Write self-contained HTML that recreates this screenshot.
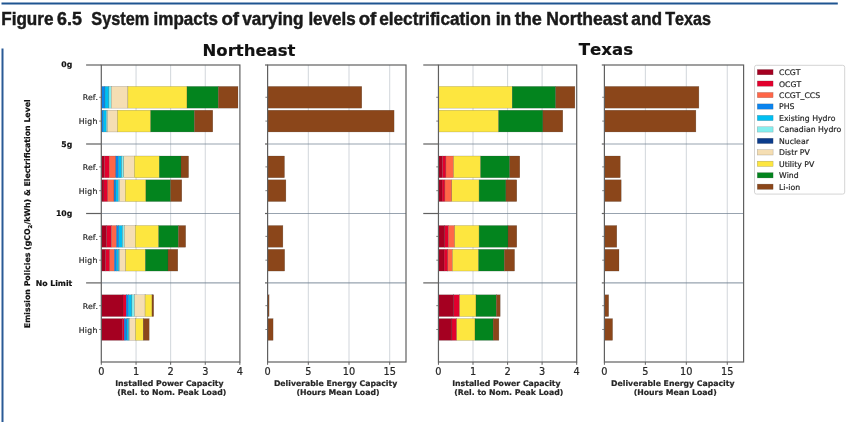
<!DOCTYPE html>
<html><head><meta charset="utf-8"><title>Figure 6.5</title>
<style>html,body{margin:0;padding:0;background:#fff;} body{width:850px;height:422px;position:relative;overflow:hidden;}</style>
</head><body>
<svg width="850" height="422" viewBox="0 0 850 422" style="position:absolute;left:0;top:0;will-change:transform;font-kerning:none">
<style>.d{font-family:"DejaVu Sans",sans-serif;fill:#262626;stroke:#262626;stroke-width:0.2px;} .s{font-size:7.75px;} .b{font-weight:bold;} .k{fill:#111;stroke:#111;} .tk{font-size:9.75px;}</style>
<rect x="1.5" y="2.5" width="836.3" height="2" fill="#1f5591"/>
<g font-family="Liberation Sans, Arial, sans-serif" font-weight="bold" font-size="17.5" fill="#1a1a1a" stroke="#1a1a1a" stroke-width="0.45">
<text x="1.2" y="24.6" textLength="52.3" lengthAdjust="spacingAndGlyphs">Figure</text>
<text x="57" y="24.6" textLength="24.8" lengthAdjust="spacingAndGlyphs">6.5</text>
<text x="91.3" y="24.6" textLength="57.9" lengthAdjust="spacingAndGlyphs">System</text>
<text x="153.6" y="24.6" textLength="64.3" lengthAdjust="spacingAndGlyphs">impacts</text>
<text x="221.4" y="24.6" textLength="17.7" lengthAdjust="spacingAndGlyphs">of</text>
<text x="242.3" y="24.6" textLength="61.1" lengthAdjust="spacingAndGlyphs">varying</text>
<text x="308.4" y="24.6" textLength="47.3" lengthAdjust="spacingAndGlyphs">levels</text>
<text x="358.7" y="24.6" textLength="17.6" lengthAdjust="spacingAndGlyphs">of</text>
<text x="379.2" y="24.6" textLength="111.9" lengthAdjust="spacingAndGlyphs">electrification</text>
<text x="495.7" y="24.6" textLength="15.5" lengthAdjust="spacingAndGlyphs">in</text>
<text x="514.8" y="24.6" textLength="27.1" lengthAdjust="spacingAndGlyphs">the</text>
<text x="546.3" y="24.6" textLength="81.7" lengthAdjust="spacingAndGlyphs">Northeast</text>
<text x="631.3" y="24.6" textLength="30.8" lengthAdjust="spacingAndGlyphs">and</text>
<text x="665.2" y="24.6" textLength="45.7" lengthAdjust="spacingAndGlyphs">Texas</text>
</g>
<rect x="1.5" y="48.5" width="2" height="374" fill="#2a5a96"/>
<line x1="136.05" y1="65.0" x2="136.05" y2="362.0" stroke="rgba(112,128,144,0.32)" stroke-width="1"/>
<line x1="170.65" y1="65.0" x2="170.65" y2="362.0" stroke="rgba(112,128,144,0.32)" stroke-width="1"/>
<line x1="205.25" y1="65.0" x2="205.25" y2="362.0" stroke="rgba(112,128,144,0.32)" stroke-width="1"/>
<line x1="101.3" y1="144" x2="239.9" y2="144" stroke="rgba(112,128,144,0.72)" stroke-width="1.2"/>
<line x1="101.3" y1="213.5" x2="239.9" y2="213.5" stroke="rgba(112,128,144,0.72)" stroke-width="1.2"/>
<line x1="101.3" y1="282.9" x2="239.9" y2="282.9" stroke="rgba(112,128,144,0.72)" stroke-width="1.2"/>
<rect x="101.3" y="86.4" width="3.6" height="21.75" fill="#0b84ee" stroke="rgba(60,60,60,0.45)" stroke-width="0.4"/>
<rect x="104.9" y="86.4" width="4" height="21.75" fill="#00bff2" stroke="rgba(60,60,60,0.45)" stroke-width="0.4"/>
<rect x="108.9" y="86.4" width="2.4" height="21.75" fill="#84eeee" stroke="rgba(60,60,60,0.45)" stroke-width="0.4"/>
<rect x="111.3" y="86.4" width="16.6" height="21.75" fill="#f5deb3" stroke="rgba(60,60,60,0.45)" stroke-width="0.4"/>
<rect x="127.9" y="86.4" width="59.1" height="21.75" fill="#fde63f" stroke="rgba(60,60,60,0.45)" stroke-width="0.4"/>
<rect x="187" y="86.4" width="31.3" height="21.75" fill="#03841e" stroke="rgba(60,60,60,0.45)" stroke-width="0.4"/>
<rect x="218.3" y="86.4" width="19.7" height="21.75" fill="#8b461a" stroke="rgba(60,60,60,0.45)" stroke-width="0.4"/>
<rect x="101.3" y="110.2" width="2" height="21.75" fill="#0b84ee" stroke="rgba(60,60,60,0.45)" stroke-width="0.4"/>
<rect x="103.3" y="110.2" width="3" height="21.75" fill="#00bff2" stroke="rgba(60,60,60,0.45)" stroke-width="0.4"/>
<rect x="106.3" y="110.2" width="1.2" height="21.75" fill="#84eeee" stroke="rgba(60,60,60,0.45)" stroke-width="0.4"/>
<rect x="107.5" y="110.2" width="10" height="21.75" fill="#f5deb3" stroke="rgba(60,60,60,0.45)" stroke-width="0.4"/>
<rect x="117.5" y="110.2" width="33.2" height="21.75" fill="#fde63f" stroke="rgba(60,60,60,0.45)" stroke-width="0.4"/>
<rect x="150.7" y="110.2" width="43.7" height="21.75" fill="#03841e" stroke="rgba(60,60,60,0.45)" stroke-width="0.4"/>
<rect x="194.4" y="110.2" width="18.4" height="21.75" fill="#8b461a" stroke="rgba(60,60,60,0.45)" stroke-width="0.4"/>
<rect x="101.3" y="156" width="3.2" height="21.75" fill="#a50021" stroke="rgba(60,60,60,0.45)" stroke-width="0.4"/>
<rect x="104.5" y="156" width="4.8" height="21.75" fill="#e2002d" stroke="rgba(60,60,60,0.45)" stroke-width="0.4"/>
<rect x="109.3" y="156" width="6.5" height="21.75" fill="#ff6648" stroke="rgba(60,60,60,0.45)" stroke-width="0.4"/>
<rect x="115.8" y="156" width="2.6" height="21.75" fill="#0b84ee" stroke="rgba(60,60,60,0.45)" stroke-width="0.4"/>
<rect x="118.4" y="156" width="3.3" height="21.75" fill="#00bff2" stroke="rgba(60,60,60,0.45)" stroke-width="0.4"/>
<rect x="121.7" y="156" width="2.1" height="21.75" fill="#84eeee" stroke="rgba(60,60,60,0.45)" stroke-width="0.4"/>
<rect x="123.8" y="156" width="10.6" height="21.75" fill="#f5deb3" stroke="rgba(60,60,60,0.45)" stroke-width="0.4"/>
<rect x="134.4" y="156" width="24.9" height="21.75" fill="#fde63f" stroke="rgba(60,60,60,0.45)" stroke-width="0.4"/>
<rect x="159.3" y="156" width="21.7" height="21.75" fill="#03841e" stroke="rgba(60,60,60,0.45)" stroke-width="0.4"/>
<rect x="181" y="156" width="7.6" height="21.75" fill="#8b461a" stroke="rgba(60,60,60,0.45)" stroke-width="0.4"/>
<rect x="101.3" y="179.8" width="2.6" height="21.75" fill="#a50021" stroke="rgba(60,60,60,0.45)" stroke-width="0.4"/>
<rect x="103.9" y="179.8" width="3.8" height="21.75" fill="#e2002d" stroke="rgba(60,60,60,0.45)" stroke-width="0.4"/>
<rect x="107.7" y="179.8" width="6.3" height="21.75" fill="#ff6648" stroke="rgba(60,60,60,0.45)" stroke-width="0.4"/>
<rect x="114" y="179.8" width="1.8" height="21.75" fill="#0b84ee" stroke="rgba(60,60,60,0.45)" stroke-width="0.4"/>
<rect x="115.8" y="179.8" width="2.6" height="21.75" fill="#00bff2" stroke="rgba(60,60,60,0.45)" stroke-width="0.4"/>
<rect x="118.4" y="179.8" width="1.2" height="21.75" fill="#84eeee" stroke="rgba(60,60,60,0.45)" stroke-width="0.4"/>
<rect x="119.6" y="179.8" width="5.7" height="21.75" fill="#f5deb3" stroke="rgba(60,60,60,0.45)" stroke-width="0.4"/>
<rect x="125.3" y="179.8" width="20.6" height="21.75" fill="#fde63f" stroke="rgba(60,60,60,0.45)" stroke-width="0.4"/>
<rect x="145.9" y="179.8" width="24.7" height="21.75" fill="#03841e" stroke="rgba(60,60,60,0.45)" stroke-width="0.4"/>
<rect x="170.6" y="179.8" width="11.2" height="21.75" fill="#8b461a" stroke="rgba(60,60,60,0.45)" stroke-width="0.4"/>
<rect x="101.3" y="225.5" width="5.3" height="21.75" fill="#a50021" stroke="rgba(60,60,60,0.45)" stroke-width="0.4"/>
<rect x="106.6" y="225.5" width="4.9" height="21.75" fill="#e2002d" stroke="rgba(60,60,60,0.45)" stroke-width="0.4"/>
<rect x="111.5" y="225.5" width="5" height="21.75" fill="#ff6648" stroke="rgba(60,60,60,0.45)" stroke-width="0.4"/>
<rect x="116.5" y="225.5" width="2.2" height="21.75" fill="#0b84ee" stroke="rgba(60,60,60,0.45)" stroke-width="0.4"/>
<rect x="118.7" y="225.5" width="3.9" height="21.75" fill="#00bff2" stroke="rgba(60,60,60,0.45)" stroke-width="0.4"/>
<rect x="122.6" y="225.5" width="1.9" height="21.75" fill="#84eeee" stroke="rgba(60,60,60,0.45)" stroke-width="0.4"/>
<rect x="124.5" y="225.5" width="10.8" height="21.75" fill="#f5deb3" stroke="rgba(60,60,60,0.45)" stroke-width="0.4"/>
<rect x="135.3" y="225.5" width="23.4" height="21.75" fill="#fde63f" stroke="rgba(60,60,60,0.45)" stroke-width="0.4"/>
<rect x="158.7" y="225.5" width="19.7" height="21.75" fill="#03841e" stroke="rgba(60,60,60,0.45)" stroke-width="0.4"/>
<rect x="178.4" y="225.5" width="7.3" height="21.75" fill="#8b461a" stroke="rgba(60,60,60,0.45)" stroke-width="0.4"/>
<rect x="101.3" y="249.3" width="4.3" height="21.75" fill="#a50021" stroke="rgba(60,60,60,0.45)" stroke-width="0.4"/>
<rect x="105.6" y="249.3" width="4.1" height="21.75" fill="#e2002d" stroke="rgba(60,60,60,0.45)" stroke-width="0.4"/>
<rect x="109.7" y="249.3" width="4.7" height="21.75" fill="#ff6648" stroke="rgba(60,60,60,0.45)" stroke-width="0.4"/>
<rect x="114.4" y="249.3" width="2.1" height="21.75" fill="#0b84ee" stroke="rgba(60,60,60,0.45)" stroke-width="0.4"/>
<rect x="116.5" y="249.3" width="2.2" height="21.75" fill="#00bff2" stroke="rgba(60,60,60,0.45)" stroke-width="0.4"/>
<rect x="118.7" y="249.3" width="0.9" height="21.75" fill="#84eeee" stroke="rgba(60,60,60,0.45)" stroke-width="0.4"/>
<rect x="119.6" y="249.3" width="6.1" height="21.75" fill="#f5deb3" stroke="rgba(60,60,60,0.45)" stroke-width="0.4"/>
<rect x="125.7" y="249.3" width="19.7" height="21.75" fill="#fde63f" stroke="rgba(60,60,60,0.45)" stroke-width="0.4"/>
<rect x="145.4" y="249.3" width="22.6" height="21.75" fill="#03841e" stroke="rgba(60,60,60,0.45)" stroke-width="0.4"/>
<rect x="168" y="249.3" width="9.8" height="21.75" fill="#8b461a" stroke="rgba(60,60,60,0.45)" stroke-width="0.4"/>
<rect x="101.3" y="294.8" width="21.7" height="21.75" fill="#a50021" stroke="rgba(60,60,60,0.45)" stroke-width="0.4"/>
<rect x="123" y="294.8" width="3.2" height="21.75" fill="#e2002d" stroke="rgba(60,60,60,0.45)" stroke-width="0.4"/>
<rect x="126.2" y="294.8" width="2.1" height="21.75" fill="#0b84ee" stroke="rgba(60,60,60,0.45)" stroke-width="0.4"/>
<rect x="128.3" y="294.8" width="3.6" height="21.75" fill="#00bff2" stroke="rgba(60,60,60,0.45)" stroke-width="0.4"/>
<rect x="131.9" y="294.8" width="2.7" height="21.75" fill="#84eeee" stroke="rgba(60,60,60,0.45)" stroke-width="0.4"/>
<rect x="134.6" y="294.8" width="10.5" height="21.75" fill="#f5deb3" stroke="rgba(60,60,60,0.45)" stroke-width="0.4"/>
<rect x="145.1" y="294.8" width="6.9" height="21.75" fill="#fde63f" stroke="rgba(60,60,60,0.45)" stroke-width="0.4"/>
<rect x="152" y="294.8" width="1.7" height="21.75" fill="#8b461a" stroke="rgba(60,60,60,0.45)" stroke-width="0.4"/>
<rect x="101.3" y="318.6" width="21" height="21.75" fill="#a50021" stroke="rgba(60,60,60,0.45)" stroke-width="0.4"/>
<rect x="122.3" y="318.6" width="1.9" height="21.75" fill="#e2002d" stroke="rgba(60,60,60,0.45)" stroke-width="0.4"/>
<rect x="124.2" y="318.6" width="2.6" height="21.75" fill="#0b84ee" stroke="rgba(60,60,60,0.45)" stroke-width="0.4"/>
<rect x="126.8" y="318.6" width="1.9" height="21.75" fill="#00bff2" stroke="rgba(60,60,60,0.45)" stroke-width="0.4"/>
<rect x="128.7" y="318.6" width="0.8" height="21.75" fill="#84eeee" stroke="rgba(60,60,60,0.45)" stroke-width="0.4"/>
<rect x="129.5" y="318.6" width="6" height="21.75" fill="#f5deb3" stroke="rgba(60,60,60,0.45)" stroke-width="0.4"/>
<rect x="135.5" y="318.6" width="7.7" height="21.75" fill="#fde63f" stroke="rgba(60,60,60,0.45)" stroke-width="0.4"/>
<rect x="143.2" y="318.6" width="6" height="21.75" fill="#8b461a" stroke="rgba(60,60,60,0.45)" stroke-width="0.4"/>
<rect x="101.3" y="65.0" width="138.6" height="297" fill="none" stroke="#606060" stroke-width="1.2"/>
<line x1="86.1" y1="65" x2="101.3" y2="65" stroke="#606060" stroke-width="1.2"/>
<line x1="99.1" y1="97.28" x2="101.3" y2="97.28" stroke="#606060" stroke-width="0.8"/>
<line x1="99.1" y1="121.08" x2="101.3" y2="121.08" stroke="#606060" stroke-width="0.8"/>
<line x1="86.1" y1="144" x2="101.3" y2="144" stroke="#606060" stroke-width="1.2"/>
<line x1="99.1" y1="166.88" x2="101.3" y2="166.88" stroke="#606060" stroke-width="0.8"/>
<line x1="99.1" y1="190.68" x2="101.3" y2="190.68" stroke="#606060" stroke-width="0.8"/>
<line x1="86.1" y1="213.5" x2="101.3" y2="213.5" stroke="#606060" stroke-width="1.2"/>
<line x1="99.1" y1="236.38" x2="101.3" y2="236.38" stroke="#606060" stroke-width="0.8"/>
<line x1="99.1" y1="260.18" x2="101.3" y2="260.18" stroke="#606060" stroke-width="0.8"/>
<line x1="86.1" y1="282.9" x2="101.3" y2="282.9" stroke="#606060" stroke-width="1.2"/>
<line x1="99.1" y1="305.68" x2="101.3" y2="305.68" stroke="#606060" stroke-width="0.8"/>
<line x1="99.1" y1="329.48" x2="101.3" y2="329.48" stroke="#606060" stroke-width="0.8"/>
<line x1="101.3" y1="362.0" x2="101.3" y2="364.8" stroke="#606060" stroke-width="1"/>
<text x="101.3" y="374.8" text-anchor="middle" class="d tk">0</text>
<line x1="136.05" y1="362.0" x2="136.05" y2="364.8" stroke="#606060" stroke-width="1"/>
<text x="136.05" y="374.8" text-anchor="middle" class="d tk">1</text>
<line x1="170.65" y1="362.0" x2="170.65" y2="364.8" stroke="#606060" stroke-width="1"/>
<text x="170.65" y="374.8" text-anchor="middle" class="d tk">2</text>
<line x1="205.25" y1="362.0" x2="205.25" y2="364.8" stroke="#606060" stroke-width="1"/>
<text x="205.25" y="374.8" text-anchor="middle" class="d tk">3</text>
<line x1="239.85" y1="362.0" x2="239.85" y2="364.8" stroke="#606060" stroke-width="1"/>
<text x="239.85" y="374.8" text-anchor="middle" class="d tk">4</text>
<text x="169.4" y="386" text-anchor="middle" class="d s b">Installed Power Capacity</text>
<text x="171.8" y="395.1" text-anchor="middle" class="d s b">(Rel. to Nom. Peak Load)</text>
<line x1="308.3" y1="65.0" x2="308.3" y2="362.0" stroke="rgba(112,128,144,0.32)" stroke-width="1"/>
<line x1="349" y1="65.0" x2="349" y2="362.0" stroke="rgba(112,128,144,0.32)" stroke-width="1"/>
<line x1="389.7" y1="65.0" x2="389.7" y2="362.0" stroke="rgba(112,128,144,0.32)" stroke-width="1"/>
<line x1="267.6" y1="144" x2="406" y2="144" stroke="rgba(112,128,144,0.72)" stroke-width="1.2"/>
<line x1="267.6" y1="213.5" x2="406" y2="213.5" stroke="rgba(112,128,144,0.72)" stroke-width="1.2"/>
<line x1="267.6" y1="282.9" x2="406" y2="282.9" stroke="rgba(112,128,144,0.72)" stroke-width="1.2"/>
<rect x="267.6" y="86.4" width="94.2" height="21.75" fill="#8b461a" stroke="rgba(60,60,60,0.45)" stroke-width="0.4"/>
<rect x="267.6" y="110.2" width="126.5" height="21.75" fill="#8b461a" stroke="rgba(60,60,60,0.45)" stroke-width="0.4"/>
<rect x="267.6" y="156" width="16.9" height="21.75" fill="#8b461a" stroke="rgba(60,60,60,0.45)" stroke-width="0.4"/>
<rect x="267.6" y="179.8" width="18.3" height="21.75" fill="#8b461a" stroke="rgba(60,60,60,0.45)" stroke-width="0.4"/>
<rect x="267.6" y="225.5" width="15.3" height="21.75" fill="#8b461a" stroke="rgba(60,60,60,0.45)" stroke-width="0.4"/>
<rect x="267.6" y="249.3" width="17.1" height="21.75" fill="#8b461a" stroke="rgba(60,60,60,0.45)" stroke-width="0.4"/>
<rect x="267.6" y="294.8" width="1.5" height="21.75" fill="#8b461a" stroke="rgba(60,60,60,0.45)" stroke-width="0.4"/>
<rect x="267.6" y="318.6" width="5.5" height="21.75" fill="#8b461a" stroke="rgba(60,60,60,0.45)" stroke-width="0.4"/>
<rect x="267.6" y="65.0" width="138.4" height="297" fill="none" stroke="#606060" stroke-width="1.2"/>
<line x1="265" y1="65" x2="267.6" y2="65" stroke="#606060" stroke-width="1.2"/>
<line x1="265.4" y1="97.28" x2="267.6" y2="97.28" stroke="#606060" stroke-width="0.8"/>
<line x1="265.4" y1="121.08" x2="267.6" y2="121.08" stroke="#606060" stroke-width="0.8"/>
<line x1="265" y1="144" x2="267.6" y2="144" stroke="#606060" stroke-width="1.2"/>
<line x1="265.4" y1="166.88" x2="267.6" y2="166.88" stroke="#606060" stroke-width="0.8"/>
<line x1="265.4" y1="190.68" x2="267.6" y2="190.68" stroke="#606060" stroke-width="0.8"/>
<line x1="265" y1="213.5" x2="267.6" y2="213.5" stroke="#606060" stroke-width="1.2"/>
<line x1="265.4" y1="236.38" x2="267.6" y2="236.38" stroke="#606060" stroke-width="0.8"/>
<line x1="265.4" y1="260.18" x2="267.6" y2="260.18" stroke="#606060" stroke-width="0.8"/>
<line x1="265" y1="282.9" x2="267.6" y2="282.9" stroke="#606060" stroke-width="1.2"/>
<line x1="265.4" y1="305.68" x2="267.6" y2="305.68" stroke="#606060" stroke-width="0.8"/>
<line x1="265.4" y1="329.48" x2="267.6" y2="329.48" stroke="#606060" stroke-width="0.8"/>
<line x1="267.6" y1="362.0" x2="267.6" y2="364.8" stroke="#606060" stroke-width="1"/>
<text x="267.6" y="374.8" text-anchor="middle" class="d tk">0</text>
<line x1="308.3" y1="362.0" x2="308.3" y2="364.8" stroke="#606060" stroke-width="1"/>
<text x="308.3" y="374.8" text-anchor="middle" class="d tk">5</text>
<line x1="349" y1="362.0" x2="349" y2="364.8" stroke="#606060" stroke-width="1"/>
<text x="349" y="374.8" text-anchor="middle" class="d tk">10</text>
<line x1="389.7" y1="362.0" x2="389.7" y2="364.8" stroke="#606060" stroke-width="1"/>
<text x="389.7" y="374.8" text-anchor="middle" class="d tk">15</text>
<text x="335.6" y="386" text-anchor="middle" class="d s b">Deliverable Energy Capacity</text>
<text x="338" y="395.1" text-anchor="middle" class="d s b">(Hours Mean Load)</text>
<line x1="473" y1="65.0" x2="473" y2="362.0" stroke="rgba(112,128,144,0.32)" stroke-width="1"/>
<line x1="507.6" y1="65.0" x2="507.6" y2="362.0" stroke="rgba(112,128,144,0.32)" stroke-width="1"/>
<line x1="542.1" y1="65.0" x2="542.1" y2="362.0" stroke="rgba(112,128,144,0.32)" stroke-width="1"/>
<line x1="438.45" y1="144" x2="576.7" y2="144" stroke="rgba(112,128,144,0.72)" stroke-width="1.2"/>
<line x1="438.45" y1="213.5" x2="576.7" y2="213.5" stroke="rgba(112,128,144,0.72)" stroke-width="1.2"/>
<line x1="438.45" y1="282.9" x2="576.7" y2="282.9" stroke="rgba(112,128,144,0.72)" stroke-width="1.2"/>
<rect x="438.45" y="86.4" width="73.75" height="21.75" fill="#fde63f" stroke="rgba(60,60,60,0.45)" stroke-width="0.4"/>
<rect x="512.2" y="86.4" width="43.5" height="21.75" fill="#03841e" stroke="rgba(60,60,60,0.45)" stroke-width="0.4"/>
<rect x="555.7" y="86.4" width="19.2" height="21.75" fill="#8b461a" stroke="rgba(60,60,60,0.45)" stroke-width="0.4"/>
<rect x="438.45" y="110.2" width="60.15" height="21.75" fill="#fde63f" stroke="rgba(60,60,60,0.45)" stroke-width="0.4"/>
<rect x="498.6" y="110.2" width="44.3" height="21.75" fill="#03841e" stroke="rgba(60,60,60,0.45)" stroke-width="0.4"/>
<rect x="542.9" y="110.2" width="19.9" height="21.75" fill="#8b461a" stroke="rgba(60,60,60,0.45)" stroke-width="0.4"/>
<rect x="438.45" y="156" width="4.05" height="21.75" fill="#a50021" stroke="rgba(60,60,60,0.45)" stroke-width="0.4"/>
<rect x="442.5" y="156" width="3.4" height="21.75" fill="#e2002d" stroke="rgba(60,60,60,0.45)" stroke-width="0.4"/>
<rect x="445.9" y="156" width="7.7" height="21.75" fill="#ff6648" stroke="rgba(60,60,60,0.45)" stroke-width="0.4"/>
<rect x="453.6" y="156" width="27" height="21.75" fill="#fde63f" stroke="rgba(60,60,60,0.45)" stroke-width="0.4"/>
<rect x="480.6" y="156" width="29.1" height="21.75" fill="#03841e" stroke="rgba(60,60,60,0.45)" stroke-width="0.4"/>
<rect x="509.7" y="156" width="10.1" height="21.75" fill="#8b461a" stroke="rgba(60,60,60,0.45)" stroke-width="0.4"/>
<rect x="438.45" y="179.8" width="3.65" height="21.75" fill="#a50021" stroke="rgba(60,60,60,0.45)" stroke-width="0.4"/>
<rect x="442.1" y="179.8" width="2.8" height="21.75" fill="#e2002d" stroke="rgba(60,60,60,0.45)" stroke-width="0.4"/>
<rect x="444.9" y="179.8" width="6.9" height="21.75" fill="#ff6648" stroke="rgba(60,60,60,0.45)" stroke-width="0.4"/>
<rect x="451.8" y="179.8" width="27.3" height="21.75" fill="#fde63f" stroke="rgba(60,60,60,0.45)" stroke-width="0.4"/>
<rect x="479.1" y="179.8" width="26.8" height="21.75" fill="#03841e" stroke="rgba(60,60,60,0.45)" stroke-width="0.4"/>
<rect x="505.9" y="179.8" width="10.9" height="21.75" fill="#8b461a" stroke="rgba(60,60,60,0.45)" stroke-width="0.4"/>
<rect x="438.45" y="225.5" width="6.35" height="21.75" fill="#a50021" stroke="rgba(60,60,60,0.45)" stroke-width="0.4"/>
<rect x="444.8" y="225.5" width="3.7" height="21.75" fill="#e2002d" stroke="rgba(60,60,60,0.45)" stroke-width="0.4"/>
<rect x="448.5" y="225.5" width="6.2" height="21.75" fill="#ff6648" stroke="rgba(60,60,60,0.45)" stroke-width="0.4"/>
<rect x="454.7" y="225.5" width="24.4" height="21.75" fill="#fde63f" stroke="rgba(60,60,60,0.45)" stroke-width="0.4"/>
<rect x="479.1" y="225.5" width="28.9" height="21.75" fill="#03841e" stroke="rgba(60,60,60,0.45)" stroke-width="0.4"/>
<rect x="508" y="225.5" width="8.8" height="21.75" fill="#8b461a" stroke="rgba(60,60,60,0.45)" stroke-width="0.4"/>
<rect x="438.45" y="249.3" width="5.65" height="21.75" fill="#a50021" stroke="rgba(60,60,60,0.45)" stroke-width="0.4"/>
<rect x="444.1" y="249.3" width="3.7" height="21.75" fill="#e2002d" stroke="rgba(60,60,60,0.45)" stroke-width="0.4"/>
<rect x="447.8" y="249.3" width="4.7" height="21.75" fill="#ff6648" stroke="rgba(60,60,60,0.45)" stroke-width="0.4"/>
<rect x="452.5" y="249.3" width="26.1" height="21.75" fill="#fde63f" stroke="rgba(60,60,60,0.45)" stroke-width="0.4"/>
<rect x="478.6" y="249.3" width="25.7" height="21.75" fill="#03841e" stroke="rgba(60,60,60,0.45)" stroke-width="0.4"/>
<rect x="504.3" y="249.3" width="10.3" height="21.75" fill="#8b461a" stroke="rgba(60,60,60,0.45)" stroke-width="0.4"/>
<rect x="438.45" y="294.8" width="15.35" height="21.75" fill="#a50021" stroke="rgba(60,60,60,0.45)" stroke-width="0.4"/>
<rect x="453.8" y="294.8" width="5.8" height="21.75" fill="#e2002d" stroke="rgba(60,60,60,0.45)" stroke-width="0.4"/>
<rect x="459.6" y="294.8" width="16.4" height="21.75" fill="#fde63f" stroke="rgba(60,60,60,0.45)" stroke-width="0.4"/>
<rect x="476" y="294.8" width="20.3" height="21.75" fill="#03841e" stroke="rgba(60,60,60,0.45)" stroke-width="0.4"/>
<rect x="496.3" y="294.8" width="3.9" height="21.75" fill="#8b461a" stroke="rgba(60,60,60,0.45)" stroke-width="0.4"/>
<rect x="438.45" y="318.6" width="13.45" height="21.75" fill="#a50021" stroke="rgba(60,60,60,0.45)" stroke-width="0.4"/>
<rect x="451.9" y="318.6" width="4.8" height="21.75" fill="#e2002d" stroke="rgba(60,60,60,0.45)" stroke-width="0.4"/>
<rect x="456.7" y="318.6" width="18.3" height="21.75" fill="#fde63f" stroke="rgba(60,60,60,0.45)" stroke-width="0.4"/>
<rect x="475" y="318.6" width="18.1" height="21.75" fill="#03841e" stroke="rgba(60,60,60,0.45)" stroke-width="0.4"/>
<rect x="493.1" y="318.6" width="5.8" height="21.75" fill="#8b461a" stroke="rgba(60,60,60,0.45)" stroke-width="0.4"/>
<rect x="438.45" y="65.0" width="138.25" height="297" fill="none" stroke="#606060" stroke-width="1.2"/>
<line x1="423.25" y1="65" x2="438.45" y2="65" stroke="#606060" stroke-width="1.2"/>
<line x1="436.25" y1="97.28" x2="438.45" y2="97.28" stroke="#606060" stroke-width="0.8"/>
<line x1="436.25" y1="121.08" x2="438.45" y2="121.08" stroke="#606060" stroke-width="0.8"/>
<line x1="423.25" y1="144" x2="438.45" y2="144" stroke="#606060" stroke-width="1.2"/>
<line x1="436.25" y1="166.88" x2="438.45" y2="166.88" stroke="#606060" stroke-width="0.8"/>
<line x1="436.25" y1="190.68" x2="438.45" y2="190.68" stroke="#606060" stroke-width="0.8"/>
<line x1="423.25" y1="213.5" x2="438.45" y2="213.5" stroke="#606060" stroke-width="1.2"/>
<line x1="436.25" y1="236.38" x2="438.45" y2="236.38" stroke="#606060" stroke-width="0.8"/>
<line x1="436.25" y1="260.18" x2="438.45" y2="260.18" stroke="#606060" stroke-width="0.8"/>
<line x1="423.25" y1="282.9" x2="438.45" y2="282.9" stroke="#606060" stroke-width="1.2"/>
<line x1="436.25" y1="305.68" x2="438.45" y2="305.68" stroke="#606060" stroke-width="0.8"/>
<line x1="436.25" y1="329.48" x2="438.45" y2="329.48" stroke="#606060" stroke-width="0.8"/>
<line x1="438.45" y1="362.0" x2="438.45" y2="364.8" stroke="#606060" stroke-width="1"/>
<text x="438.45" y="374.8" text-anchor="middle" class="d tk">0</text>
<line x1="473" y1="362.0" x2="473" y2="364.8" stroke="#606060" stroke-width="1"/>
<text x="473" y="374.8" text-anchor="middle" class="d tk">1</text>
<line x1="507.6" y1="362.0" x2="507.6" y2="364.8" stroke="#606060" stroke-width="1"/>
<text x="507.6" y="374.8" text-anchor="middle" class="d tk">2</text>
<line x1="542.1" y1="362.0" x2="542.1" y2="364.8" stroke="#606060" stroke-width="1"/>
<text x="542.1" y="374.8" text-anchor="middle" class="d tk">3</text>
<line x1="576.7" y1="362.0" x2="576.7" y2="364.8" stroke="#606060" stroke-width="1"/>
<text x="576.7" y="374.8" text-anchor="middle" class="d tk">4</text>
<text x="506.38" y="386" text-anchor="middle" class="d s b">Installed Power Capacity</text>
<text x="508.78" y="395.1" text-anchor="middle" class="d s b">(Rel. to Nom. Peak Load)</text>
<line x1="645.35" y1="65.0" x2="645.35" y2="362.0" stroke="rgba(112,128,144,0.32)" stroke-width="1"/>
<line x1="686.3" y1="65.0" x2="686.3" y2="362.0" stroke="rgba(112,128,144,0.32)" stroke-width="1"/>
<line x1="727.25" y1="65.0" x2="727.25" y2="362.0" stroke="rgba(112,128,144,0.32)" stroke-width="1"/>
<line x1="604.4" y1="144" x2="743.6" y2="144" stroke="rgba(112,128,144,0.72)" stroke-width="1.2"/>
<line x1="604.4" y1="213.5" x2="743.6" y2="213.5" stroke="rgba(112,128,144,0.72)" stroke-width="1.2"/>
<line x1="604.4" y1="282.9" x2="743.6" y2="282.9" stroke="rgba(112,128,144,0.72)" stroke-width="1.2"/>
<rect x="604.4" y="86.4" width="94.5" height="21.75" fill="#8b461a" stroke="rgba(60,60,60,0.45)" stroke-width="0.4"/>
<rect x="604.4" y="110.2" width="91.5" height="21.75" fill="#8b461a" stroke="rgba(60,60,60,0.45)" stroke-width="0.4"/>
<rect x="604.4" y="156" width="15.9" height="21.75" fill="#8b461a" stroke="rgba(60,60,60,0.45)" stroke-width="0.4"/>
<rect x="604.4" y="179.8" width="16.8" height="21.75" fill="#8b461a" stroke="rgba(60,60,60,0.45)" stroke-width="0.4"/>
<rect x="604.4" y="225.5" width="12.4" height="21.75" fill="#8b461a" stroke="rgba(60,60,60,0.45)" stroke-width="0.4"/>
<rect x="604.4" y="249.3" width="14.6" height="21.75" fill="#8b461a" stroke="rgba(60,60,60,0.45)" stroke-width="0.4"/>
<rect x="604.4" y="294.8" width="4.3" height="21.75" fill="#8b461a" stroke="rgba(60,60,60,0.45)" stroke-width="0.4"/>
<rect x="604.4" y="318.6" width="8.2" height="21.75" fill="#8b461a" stroke="rgba(60,60,60,0.45)" stroke-width="0.4"/>
<rect x="604.4" y="65.0" width="139.2" height="297" fill="none" stroke="#606060" stroke-width="1.2"/>
<line x1="601.8" y1="65" x2="604.4" y2="65" stroke="#606060" stroke-width="1.2"/>
<line x1="602.2" y1="97.28" x2="604.4" y2="97.28" stroke="#606060" stroke-width="0.8"/>
<line x1="602.2" y1="121.08" x2="604.4" y2="121.08" stroke="#606060" stroke-width="0.8"/>
<line x1="601.8" y1="144" x2="604.4" y2="144" stroke="#606060" stroke-width="1.2"/>
<line x1="602.2" y1="166.88" x2="604.4" y2="166.88" stroke="#606060" stroke-width="0.8"/>
<line x1="602.2" y1="190.68" x2="604.4" y2="190.68" stroke="#606060" stroke-width="0.8"/>
<line x1="601.8" y1="213.5" x2="604.4" y2="213.5" stroke="#606060" stroke-width="1.2"/>
<line x1="602.2" y1="236.38" x2="604.4" y2="236.38" stroke="#606060" stroke-width="0.8"/>
<line x1="602.2" y1="260.18" x2="604.4" y2="260.18" stroke="#606060" stroke-width="0.8"/>
<line x1="601.8" y1="282.9" x2="604.4" y2="282.9" stroke="#606060" stroke-width="1.2"/>
<line x1="602.2" y1="305.68" x2="604.4" y2="305.68" stroke="#606060" stroke-width="0.8"/>
<line x1="602.2" y1="329.48" x2="604.4" y2="329.48" stroke="#606060" stroke-width="0.8"/>
<line x1="604.4" y1="362.0" x2="604.4" y2="364.8" stroke="#606060" stroke-width="1"/>
<text x="604.4" y="374.8" text-anchor="middle" class="d tk">0</text>
<line x1="645.35" y1="362.0" x2="645.35" y2="364.8" stroke="#606060" stroke-width="1"/>
<text x="645.35" y="374.8" text-anchor="middle" class="d tk">5</text>
<line x1="686.3" y1="362.0" x2="686.3" y2="364.8" stroke="#606060" stroke-width="1"/>
<text x="686.3" y="374.8" text-anchor="middle" class="d tk">10</text>
<line x1="727.25" y1="362.0" x2="727.25" y2="364.8" stroke="#606060" stroke-width="1"/>
<text x="727.25" y="374.8" text-anchor="middle" class="d tk">15</text>
<text x="672.8" y="386" text-anchor="middle" class="d s b">Deliverable Energy Capacity</text>
<text x="675.2" y="395.1" text-anchor="middle" class="d s b">(Hours Mean Load)</text>
<text x="72.3" y="66.9" text-anchor="end" class="d s b k">0g</text>
<text x="98" y="100.48" text-anchor="end" class="d s">Ref.</text>
<text x="97.7" y="124.28" text-anchor="end" class="d s" letter-spacing="0.3">High</text>
<text x="72.3" y="146.7" text-anchor="end" class="d s b k">5g</text>
<text x="98" y="170.07" text-anchor="end" class="d s">Ref.</text>
<text x="97.7" y="193.88" text-anchor="end" class="d s" letter-spacing="0.3">High</text>
<text x="72.3" y="216.2" text-anchor="end" class="d s b k">10g</text>
<text x="98" y="239.57" text-anchor="end" class="d s">Ref.</text>
<text x="97.7" y="263.38" text-anchor="end" class="d s" letter-spacing="0.3">High</text>
<text x="72.3" y="285.6" text-anchor="end" class="d s b k">No Limit</text>
<text x="98" y="308.88" text-anchor="end" class="d s">Ref.</text>
<text x="97.7" y="332.68" text-anchor="end" class="d s" letter-spacing="0.3">High</text>
<text x="249" y="55.5" text-anchor="middle" class="d b k" font-size="16.5" style="stroke-width:0.2px">Northeast</text>
<text x="605.9" y="55.4" text-anchor="middle" class="d b k" font-size="16.6" style="stroke-width:0.2px">Texas</text>
<text transform="translate(29.9,213.7) rotate(-90)" text-anchor="middle" class="d b k" font-size="7.82">Emission Policies (gCO<tspan font-size="5.4" dy="1.6">2</tspan><tspan dy="-1.6">/kWh) &amp; Electrification Level</tspan></text>
<rect x="754.5" y="65.3" width="90.2" height="128.8" rx="2" ry="2" fill="#fff" stroke="#cfcfcf" stroke-width="0.9"/>
<rect x="757.3" y="69.5" width="15.8" height="5.3" fill="#a50021" stroke="rgba(60,60,60,0.45)" stroke-width="0.4"/>
<text x="779" y="75.1" class="d s">CCGT</text>
<rect x="757.3" y="80.96" width="15.8" height="5.3" fill="#e2002d" stroke="rgba(60,60,60,0.45)" stroke-width="0.4"/>
<text x="779" y="86.56" class="d s">OCGT</text>
<rect x="757.3" y="92.42" width="15.8" height="5.3" fill="#ff6648" stroke="rgba(60,60,60,0.45)" stroke-width="0.4"/>
<text x="779" y="98.02" class="d s">CCGT_CCS</text>
<rect x="757.3" y="103.88" width="15.8" height="5.3" fill="#0b84ee" stroke="rgba(60,60,60,0.45)" stroke-width="0.4"/>
<text x="779" y="109.48" class="d s">PHS</text>
<rect x="757.3" y="115.34" width="15.8" height="5.3" fill="#00bff2" stroke="rgba(60,60,60,0.45)" stroke-width="0.4"/>
<text x="779" y="120.94" class="d s">Existing Hydro</text>
<rect x="757.3" y="126.8" width="15.8" height="5.3" fill="#84eeee" stroke="rgba(60,60,60,0.45)" stroke-width="0.4"/>
<text x="779" y="132.4" class="d s">Canadian Hydro</text>
<rect x="757.3" y="138.26" width="15.8" height="5.3" fill="#0b3c8c" stroke="rgba(60,60,60,0.45)" stroke-width="0.4"/>
<text x="779" y="143.86" class="d s">Nuclear</text>
<rect x="757.3" y="149.72" width="15.8" height="5.3" fill="#f5deb3" stroke="rgba(60,60,60,0.45)" stroke-width="0.4"/>
<text x="779" y="155.32" class="d s">Distr PV</text>
<rect x="757.3" y="161.18" width="15.8" height="5.3" fill="#fde63f" stroke="rgba(60,60,60,0.45)" stroke-width="0.4"/>
<text x="779" y="166.78" class="d s">Utility PV</text>
<rect x="757.3" y="172.64" width="15.8" height="5.3" fill="#03841e" stroke="rgba(60,60,60,0.45)" stroke-width="0.4"/>
<text x="779" y="178.24" class="d s">Wind</text>
<rect x="757.3" y="184.1" width="15.8" height="5.3" fill="#8b461a" stroke="rgba(60,60,60,0.45)" stroke-width="0.4"/>
<text x="779" y="189.7" class="d s">Li-ion</text>
</svg>
</body></html>
